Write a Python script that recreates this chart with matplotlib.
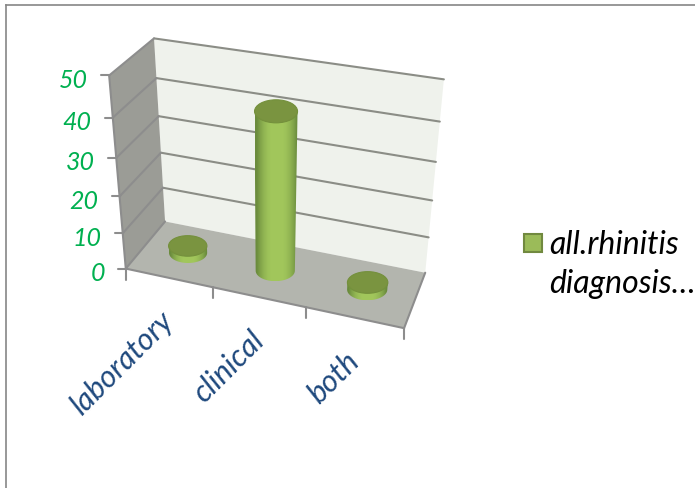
import numpy as np
import matplotlib
matplotlib.use("Agg")
import matplotlib.pyplot as plt
from matplotlib.patches import Polygon, Ellipse, Rectangle

categories = ["laboratory", "clinical", "both"]
values = [2, 42, 2]
y_ticks = [0, 10, 20, 30, 40, 50]
legend_lines = ["all.rhinitis", "diagnosis…"]

W, H = 695, 489
plt.rcParams["font.family"] = ["Lato", "DejaVu Sans"]
fig = plt.figure(figsize=(W / 100, H / 100), dpi=100)
ax = fig.add_axes([0, 0, 1, 1])
ax.set_xlim(0, W)
ax.set_ylim(H, 0)
ax.axis("off")

# Camera fitted to the eight corners of the chart box: (across, depth, value) -> pixel
world = np.array([[0, 0, 0], [0, 1, 0], [1, 1, 0], [1, 0, 0],
                  [0, 0, 50], [0, 1, 50], [1, 1, 50], [1, 0, 50]], float)
pixel = np.array([[126, 270], [165, 222], [427, 274], [402, 329],
                  [109, 77], [154, 39], [442, 81], [424, 124]], float)
rows, rhs = [], []
for (a, b, c), (u, v) in zip(world, pixel):
    rows.append([a, b, c, 1, 0, 0, 0, 0, -u * a, -u * b, -u * c])
    rhs.append(u)
    rows.append([0, 0, 0, 0, a, b, c, 1, -v * a, -v * b, -v * c])
    rhs.append(v)
sol = np.linalg.lstsq(np.array(rows), np.array(rhs), rcond=None)[0]
P = np.append(sol, 1.0).reshape(3, 4)


def proj(t, d, v):
    h = P @ np.array([t, d, v, 1.0])
    return h[0] / h[2], h[1] / h[2], h[2]


def xy(t, d, v):
    return proj(t, d, v)[:2]


LINE = "#8d8d8d"
top = max(y_ticks)
ax.add_patch(Polygon([xy(0, 1, 0), xy(1, 1, 0), xy(1, 1, top), xy(0, 1, top)],
                     fc="#eff2ec", ec="none", zorder=1))
ax.add_patch(Polygon([xy(0, 0, 0), xy(0, 1, 0), xy(0, 1, top), xy(0, 0, top)],
                     fc="#9b9c96", ec="none", zorder=1))
ax.add_patch(Polygon([xy(0, 0, 0), xy(1, 0, 0), xy(1, 1, 0), xy(0, 1, 0)],
                     fc="#b3b5ae", ec="none", zorder=1))


def seg(a, b, color=LINE, lw=1.5, z=2):
    ax.plot([a[0], b[0]], [a[1], b[1]], color=color, lw=lw, zorder=z,
            solid_capstyle="round")


for v in y_ticks:
    if v > 0:
        seg(xy(0, 1, v), xy(1, 1, v), color="#8b8d86")
        seg(xy(0, 0, v), xy(0, 1, v))
    p = xy(0, 0, v)
    seg((p[0] - 8, p[1]), p)
    ax.text(p[0] - 21, p[1] + 4, str(v), color="#00b050", fontsize=18, style="italic",
            ha="right", va="center", zorder=5)

seg(xy(0, 0, 0), xy(0, 0, top))
seg(xy(0, 0, 0), xy(1, 0, 0))
seg(xy(1, 0, 0), xy(1, 1, 0))
seg(xy(0, 0, 0), xy(0, 1, 0))

n = len(categories)
for i in range(n + 1):
    p = xy(i / n, 0, 0)
    seg(p, (p[0], p[1] + 11))

# Cylinders
grad = np.array([[0.0, 0.4, 0.7, 0.9, 1.0, 1.0, 1.0, 1.0, 0.9, 0.7, 0.4, 0.0]])
dark, light = np.array([0.42, 0.55, 0.24]), np.array([0.635, 0.78, 0.36])
rgb = dark + (light - dark) * grad[..., None]
RX, RY = 19.6 * proj(0.5, 0.5, 0)[2], 10.5 * proj(0.5, 0.5, 0)[2]

for i, (cat, val) in enumerate(zip(categories, values)):
    t = (i + 0.5) / n
    bx, by, bw = proj(t, 0.5, 0)
    tx, ty, tw = proj(t, 0.5, val)
    brx, bry, trx, try_ = RX / bw, RY / bw, RX / tw, RY / tw
    ang = np.linspace(0, np.pi, 40)
    outline = [(tx - trx, ty)] + [(bx - brx * np.cos(a), by + bry * np.sin(a)) for a in ang] + [(tx + trx, ty)]
    body = Polygon(outline, closed=True, fc="none", ec="none", zorder=3)
    ax.add_patch(body)
    im = ax.imshow(rgb, extent=(min(bx - brx, tx - trx), max(bx + brx, tx + trx), by + bry, ty),
                   aspect="auto", interpolation="bilinear", zorder=3)
    im.set_clip_path(body)
    ax.add_patch(Ellipse((tx, ty), 2 * trx, 2 * try_, fc="#7a9440", ec="#74903c", lw=0.8, zorder=4))
ax.set_xlim(0, W)
ax.set_ylim(H, 0)

for i, cat in enumerate(categories):
    p = xy((i + 0.5) / n, 0, 0)
    ax.text(p[0] - 10, p[1] + 28, cat, rotation=45, rotation_mode="anchor", ha="right", va="top",
            color="#1f497d", fontsize=22, style="italic", zorder=5)

# Legend
ax.add_patch(Rectangle((524, 235), 18, 18, fc="#9bbb59", ec="#71893f", lw=1.5, zorder=5))
ax.text(549, 245, legend_lines[0], fontsize=23, style="italic", color="black", va="center", ha="left", zorder=5)
ax.text(549, 284, legend_lines[1], fontsize=23, style="italic", color="black", va="center", ha="left", zorder=5)

# Outer frame
ax.plot([6, 6], [H, 6], color="#868686", lw=1.2, zorder=6)
ax.plot([6, W], [6, 6], color="#868686", lw=1.2, zorder=6)

fig.savefig("out.png", dpi=100, facecolor="white")
